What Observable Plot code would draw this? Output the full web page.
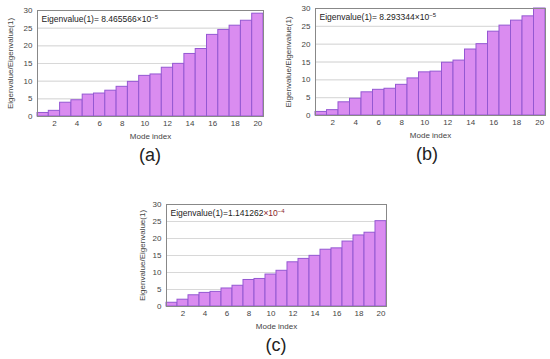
<!DOCTYPE html>
<html>
<head>
<meta charset="utf-8">
<script src="https://cdn.jsdelivr.net/npm/d3@7"></script>
<script src="https://cdn.jsdelivr.net/npm/@observablehq/plot@0.6"></script>
<style>
  html, body { margin: 0; padding: 0; background: #fff; }
  #fig { position: relative; width: 550px; height: 359px; overflow: hidden; font-family: "Liberation Sans", Arial, sans-serif; }
  .panel { position: absolute; }
  .tag { position: absolute; font-size: 18px; color: #222; transform: translate(-50%, -50%); white-space: nowrap; }
</style>
</head>
<body>
<div id="fig"></div>
<script>
const modes = [1,2,3,4,5,6,7,8,9,10,11,12,13,14,15,16,17,18,19,20];
const valuesA = [1.0,1.6,3.9,4.6,6.2,6.5,7.3,8.4,9.8,11.5,11.9,13.8,14.9,17.7,19.1,23.1,24.5,25.7,27.1,29.1];
const valuesB = [1.0,1.5,3.7,4.7,6.5,7.2,7.5,8.6,10.4,12.1,12.3,14.8,15.4,18.5,20.0,23.5,25.2,26.6,27.8,30.0];
const valuesC = [1.1,2.0,3.3,4.0,4.3,5.3,6.1,7.8,8.1,9.4,10.5,13.0,14.0,14.9,16.7,17.1,19.1,20.9,21.7,25.1];
const yTicks = [0,5,10,15,20,25,30];
const xTicks = [2,4,6,8,10,12,14,16,18,20];
const notePrefix = ["Eigenvalue(1)= ", "Eigenvalue(1)= ", "Eigenvalue(1)="];
const noteMantissa = ["8.465566", "8.293344", "1.141262"];
const noteExponent = ["−5", "−5", "−4"];
const tags = ["(a)", "(b)", "(c)"];
const xLabel = "Mode index";
const yLabel = "Eigenvalue/Eigenvalue(1)";

const fig = document.getElementById("fig");

function panel(i, values, box) {
  const rows = modes.map((m, k) => ({mode: m, value: values[k]}));
  const note = notePrefix[i] + noteMantissa[i];
  const chart = Plot.plot({
    width: box.w, height: box.h,
    marginLeft: box.ml, marginRight: box.mr, marginTop: box.mt, marginBottom: box.mb,
    style: {fontFamily: '"Liberation Sans", Arial, sans-serif', fontSize: "8px", color: "#444", background: "transparent", overflow: "visible"},
    x: {domain: [0.5, 20.5], ticks: xTicks, tickSize: 0, tickPadding: 4, label: xLabel, labelAnchor: "center", labelOffset: 22, labelArrow: "none"},
    y: {domain: [0, 30], ticks: yTicks, tickSize: 0, tickPadding: 5, grid: true, label: yLabel, labelAnchor: "center", labelOffset: box.lo, labelArrow: "none"},
    marks: [
      Plot.gridY(yTicks, {stroke: "#d8d8d8", strokeOpacity: 1}),
      Plot.rectY(rows, {x1: d => d.mode - 0.5, x2: d => d.mode + 0.5, y: "value", fill: "#da8cf0", stroke: "#9458d2", strokeWidth: 1}),
      Plot.frame({stroke: "#888"}),
      Plot.text([note], {frameAnchor: "top-left", dx: 4, dy: 5, text: d => d, fontSize: 8.5, fill: "#222", textAnchor: "start", lineAnchor: "top"})
    ]
  });
  // add the "×10^exp" part with a real superscript
  d3.select(chart).selectAll("text")
    .filter(function () { return this.textContent === note; })
    .each(function () {
      const t = d3.select(this);
      const col = i === 2 ? "#8a1f2a" : "#222";
      t.append("tspan").attr("fill", col).text("×10");
      t.append("tspan").attr("fill", col).attr("font-size", 6).attr("dy", "-0.45em").text(noteExponent[i]);
    });
  chart.classList.add("panel");
  chart.style.left = box.x + "px";
  chart.style.top = box.y + "px";
  fig.appendChild(chart);
}

panel(0, valuesA, {x: 0, y: 0, w: 275, h: 140, ml: 37, mr: 12, mt: 10, mb: 24, lo: 30});
panel(1, valuesB, {x: 275, y: 0, w: 275, h: 140, ml: 40, mr: 5, mt: 8, mb: 25, lo: 30});
panel(2, valuesC, {x: 130, y: 195, w: 270, h: 135, ml: 36, mr: 14, mt: 9, mb: 24, lo: 27});

const tagPos = [[150, 155], [427, 154], [276, 345]];
tags.forEach((t, i) => {
  const d = document.createElement("div");
  d.className = "tag";
  d.textContent = t;
  d.style.left = tagPos[i][0] + "px";
  d.style.top = tagPos[i][1] + "px";
  fig.appendChild(d);
});
</script>
</body>
</html>
